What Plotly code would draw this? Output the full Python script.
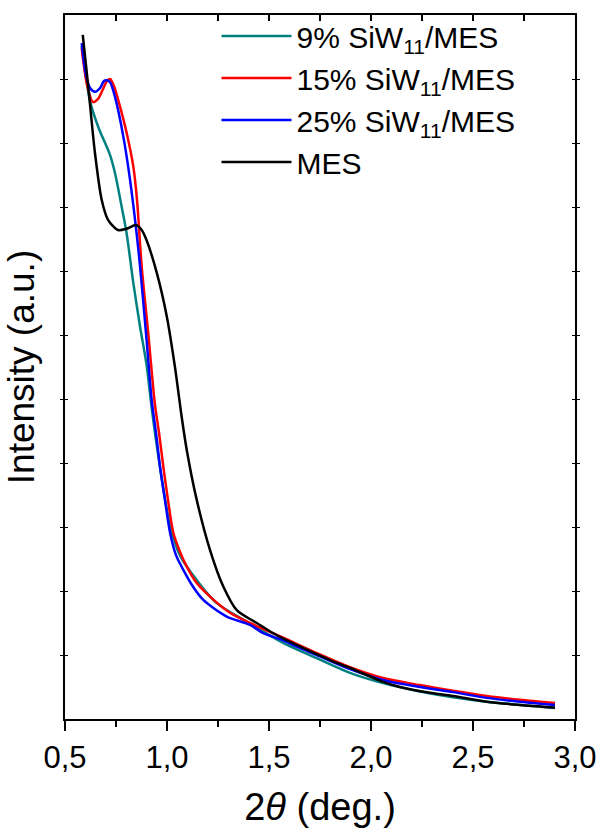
import plotly.graph_objects as go

# ---- data (2θ in degrees, intensity in arbitrary units) ----
x_9 = [0.582, 0.623, 0.663, 0.721, 0.745, 0.778, 0.802, 0.835, 0.868, 0.900, 0.926, 0.946,
       0.983, 1.015, 1.064, 1.146, 1.244, 1.391, 1.569, 1.734, 1.897, 2.059, 2.240, 2.402,
       2.567, 2.730, 2.902]
y_9 = [10.52, 9.65, 9.25, 8.81, 8.53, 8.00, 7.59, 6.81, 6.13, 5.53, 4.83, 4.36,
       3.58, 3.03, 2.55, 2.17, 1.81, 1.52, 1.19, 0.95, 0.72, 0.56, 0.43, 0.34,
       0.27, 0.22, 0.17]

x_15 = [0.582, 0.608, 0.637, 0.662, 0.686, 0.706, 0.721, 0.740, 0.761, 0.802, 0.835, 0.853,
        0.876, 0.908, 0.941, 0.961, 0.982, 1.005, 1.031, 1.064, 1.097, 1.142, 1.195, 1.309,
        1.407, 1.569, 1.734, 1.897, 2.059, 2.240, 2.402, 2.567, 2.730, 2.902]
y_15 = [10.48, 9.91, 9.64, 9.69, 9.84, 9.97, 10.00, 9.89, 9.67, 9.16, 8.63, 8.11,
        7.07, 6.03, 4.91, 4.47, 3.94, 3.42, 2.91, 2.61, 2.38, 2.14, 1.96, 1.66,
        1.50, 1.27, 1.03, 0.81, 0.64, 0.53, 0.44, 0.36, 0.30, 0.25]

x_25 = [0.582, 0.603, 0.623, 0.647, 0.672, 0.691, 0.704, 0.721, 0.745, 0.786, 0.819, 0.851,
        0.868, 0.900, 0.925, 0.946, 0.966, 0.990, 1.015, 1.044, 1.080, 1.123, 1.178, 1.293,
        1.407, 1.472, 1.569, 1.636, 1.734, 1.897, 2.059, 2.240, 2.402, 2.567, 2.730, 2.902]
y_25 = [10.56, 10.06, 9.86, 9.80, 9.86, 9.97, 9.98, 9.95, 9.72, 9.10, 8.42, 7.59,
        7.07, 5.92, 4.98, 4.47, 3.94, 3.42, 2.91, 2.56, 2.33, 2.09, 1.86, 1.60,
        1.47, 1.34, 1.23, 1.13, 1.00, 0.78, 0.61, 0.50, 0.42, 0.33, 0.27, 0.22]

x_mes = [0.587, 0.614, 0.647, 0.680, 0.711, 0.760, 0.802, 0.848, 0.876, 0.900, 0.950, 0.999,
         1.039, 1.072, 1.097, 1.146, 1.211, 1.276, 1.342, 1.440, 1.520, 1.667, 1.814, 1.897,
         2.059, 2.142, 2.289, 2.402, 2.567, 2.730, 2.902]
y_mes = [10.69, 9.88, 8.84, 8.11, 7.80, 7.64, 7.66, 7.72, 7.64, 7.48, 6.97, 6.29,
         5.50, 4.72, 4.20, 3.42, 2.64, 2.07, 1.70, 1.50, 1.34, 1.11, 0.90, 0.80,
         0.58, 0.50, 0.41, 0.36, 0.27, 0.22, 0.18]

series_names = ["9% SiW<sub>11</sub>/MES", "15% SiW<sub>11</sub>/MES",
                "25% SiW<sub>11</sub>/MES", "MES"]
series_colors = ["#008080", "#ff0000", "#0000ff", "#000000"]
x_ticks = [0.5, 1.0, 1.5, 2.0, 2.5, 3.0]

FONT = "Arial, Liberation Sans, sans-serif"

fig = go.Figure()
for i, (xs, ys, name, col) in enumerate(zip([x_9, x_15, x_25, x_mes], [y_9, y_15, y_25, y_mes],
                                            series_names, series_colors)):
    fig.add_trace(go.Scatter(x=xs, y=ys, mode="lines", name=name, legendgroup=f"g{i}",
                             line=dict(color=col, width=2.5, shape="spline", smoothing=0.8)))

# invisible trace to attach the top axis
fig.add_trace(go.Scatter(x=[x_ticks[0], x_ticks[-1]], y=[0, 0], xaxis="x2", mode="lines",
                         line=dict(width=0), showlegend=False, hoverinfo="skip"))

fig.update_layout(
    width=601, height=828,
    margin=dict(l=65, r=26, t=15, b=109, autoexpand=False),
    paper_bgcolor="white", plot_bgcolor="white",
    separators=", ",
    font=dict(family=FONT, color="black", size=28),
    showlegend=True,
    legend=dict(x=0.297, y=1.007, xanchor="left", yanchor="top",
                bgcolor="rgba(0,0,0,0)", font=dict(size=30, family=FONT),
                itemwidth=70, tracegroupgap=0),
    xaxis=dict(range=[0.5, 3.0], tickvals=x_ticks, tickformat=".1f",
               ticks="outside", ticklen=10, tickwidth=1.5, tickcolor="black",
               showline=True, linecolor="black", linewidth=2, mirror=True,
               showgrid=False, zeroline=False, automargin=False,
               tickfont=dict(size=31, family=FONT),
               minor=dict(dtick=0.25, ticks="outside", ticklen=6, tickwidth=1.5, tickcolor="black"),
               title=dict(text="2<i>θ</i> (deg.)", font=dict(size=38, family=FONT), standoff=20)),
    xaxis2=dict(range=[0.5, 3.0], overlaying="x", side="top", dtick=0.25, tick0=0.5,
                ticks="inside", ticklen=6, tickwidth=1.5, tickcolor="black",
                showticklabels=False, showgrid=False, zeroline=False, showline=False,
                automargin=False),
    yaxis=dict(range=[0, 11], dtick=1, tick0=0, ticks="inside", ticklen=3, tickwidth=1,
               tickcolor="black", showticklabels=False, automargin=False,
               showline=True, linecolor="black", linewidth=2, mirror="allticks",
               showgrid=False, zeroline=False,
               title=dict(text="Intensity (a.u.)", font=dict(size=37, family=FONT), standoff=17)),
)

fig.write_html("out.html", config={"displayModeBar": False},
               post_script="document.body.style.margin='0';")
